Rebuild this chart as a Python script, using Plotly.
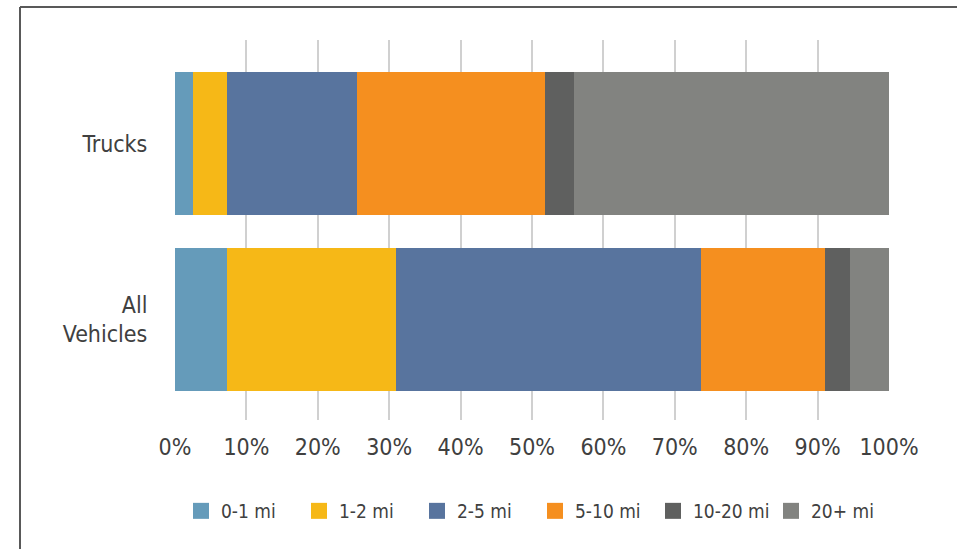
import plotly.graph_objects as go

categories = ["All<br>Vehicles", "Trucks"]
series_names = ["0-1 mi", "1-2 mi", "2-5 mi", "5-10 mi", "10-20 mi", "20+ mi"]
all_vehicles = [7.3, 23.7, 42.7, 17.4, 3.4, 5.5]
trucks = [2.5, 4.8, 18.2, 26.3, 4.1, 44.1]
colors = ["#659BBA", "#F6B817", "#58749E", "#F58F1F", "#5F605F", "#828380"]
tick_vals = [0, 10, 20, 30, 40, 50, 60, 70, 80, 90, 100]
tick_text = [f"{v}%" for v in tick_vals]

FONT = "Liberation Sans Narrow, DejaVu Sans Condensed, Roboto, sans-serif"
TXT = "#404040"

W, H = 957, 549
L, R, T, B = 175, W - 889, 40, H - 420
pw, ph = W - L - R, H - T - B

def px(x):
    return (x - L) / pw

def py(y):
    return (H - B - y) / ph

fig = go.Figure()
for i, name in enumerate(series_names):
    fig.add_trace(go.Bar(
        y=categories,
        x=[all_vehicles[i], trucks[i]],
        name=name,
        orientation="h",
        marker=dict(color=colors[i], line=dict(width=0)),
        hoverinfo="skip",
        showlegend=False,
    ))
for i, name in enumerate(series_names):
    fig.add_trace(go.Scatter(
        x=[None], y=[None], mode="markers", name=name,
        marker=dict(symbol="square", size=17, color=colors[i]),
        hoverinfo="skip", showlegend=True,
    ))

fig.update_layout(
    width=W, height=H,
    barmode="stack",
    bargap=0.1875,
    margin=dict(l=L, r=R, t=T, b=B, autoexpand=False),
    paper_bgcolor="white",
    plot_bgcolor="white",
    font=dict(family=FONT, color=TXT, size=22),
    showlegend=True,
    legend=dict(
        orientation="h",
        x=px(181), xanchor="left",
        y=py(511), yanchor="middle",
        font=dict(size=19, family=FONT, color=TXT),
        entrywidth=73, entrywidthmode="pixels",
        itemwidth=30,
        traceorder="normal",
        itemclick=False,
    ),
    xaxis=dict(
        range=[0, 100],
        tickvals=tick_vals,
        ticktext=tick_text,
        showgrid=True,
        gridcolor="#D0D0D0",
        gridwidth=2,
        zeroline=False,
        showline=False,
        ticks="outside",
        ticklen=6,
        tickcolor="rgba(0,0,0,0)",
        tickfont=dict(size=23, family=FONT, color=TXT),
        fixedrange=True,
    ),
    yaxis=dict(
        range=[-0.571, 1.588],
        showgrid=False,
        zeroline=False,
        showline=False,
        ticks="outside",
        ticklen=22,
        tickcolor="rgba(0,0,0,0)",
        tickfont=dict(size=23, family=FONT, color=TXT),
        fixedrange=True,
    ),
    shapes=[
        dict(type="line", xref="paper", yref="paper",
             x0=px(20), x1=px(W + 5), y0=py(7), y1=py(7),
             line=dict(color="#595959", width=2)),
        dict(type="line", xref="paper", yref="paper",
             x0=px(20), x1=px(20), y0=py(7), y1=py(H + 5),
             line=dict(color="#595959", width=2)),
    ],
)

fig.write_html(
    "out.html",
    config={"displayModeBar": False},
    post_script="document.body.style.margin='0';document.body.style.overflow='hidden';",
)
